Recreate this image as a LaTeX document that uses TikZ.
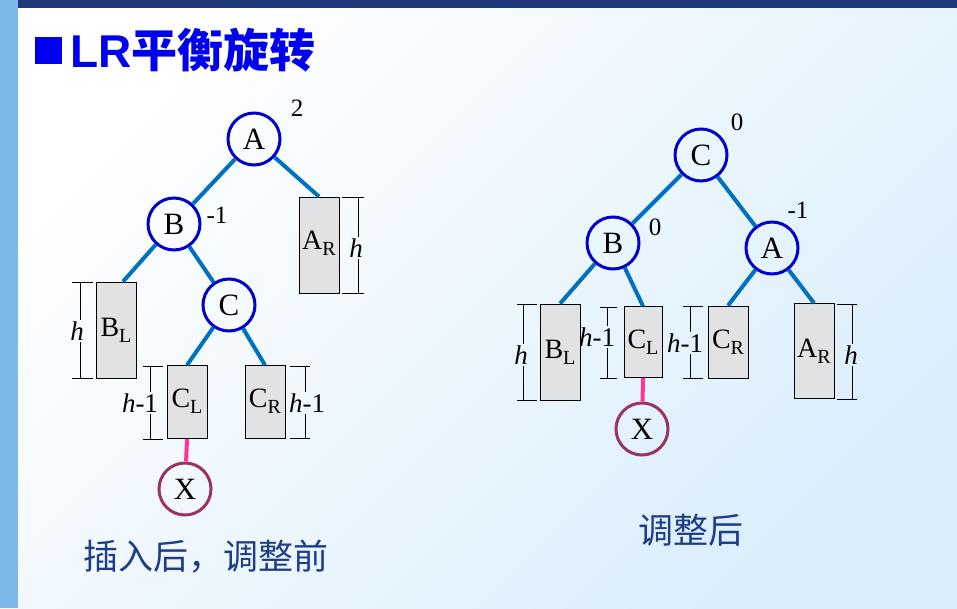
\documentclass[tikz,border=0pt]{standalone}
\usepackage{fontspec}
\setmainfont{Liberation Serif}
\newfontfamily\cjk{Noto Sans CJK SC}
\newfontfamily\titlesans{Liberation Sans}

\definecolor{edgeblue}{RGB}{0,112,192}
\definecolor{ringblue}{RGB}{0,0,204}
\definecolor{xring}{RGB}{153,51,102}
\definecolor{xedge}{RGB}{255,51,153}
\definecolor{capnavy}{RGB}{31,60,136}
\definecolor{topnavy}{RGB}{31,58,122}
\definecolor{sidebar}{RGB}{125,185,232}
\definecolor{bgblue}{RGB}{218,238,252}
\definecolor{boxgray}{RGB}{224,226,228}
\definecolor{titleblue}{RGB}{0,0,240}

\newcommand{\lowr}[1]{\raisebox{-0.22em}{\fontsize{20}{21}\selectfont #1}}
% height marker: name, line x, tick from, tick to, top, bottom, label x, label y, text
\newcommand{\hmark}[9]{%
  \coordinate (#1t) at (#2,#5);
  \coordinate (#1b) at (#2,#6);
  \draw[dimline] (#3,#5) -- (#4,#5) (#3,#6) -- (#4,#6);
  \node[dimlab] (#1) at (#7,#8) {#9};
  \draw[dimline] (#1t) -- (#1t |- #1.north) (#1t |- #1.south) -- (#1b);
}

\tikzset{
  vtx/.style={circle, draw=ringblue, line width=3pt, minimum size=52pt, inner sep=0pt,
    font=\fontsize{31}{33}\selectfont},
  xvtx/.style={vtx, draw=xring},
  subtree/.style={draw=black, line width=0.8pt, fill=boxgray, minimum width=40pt,
    inner sep=0pt, font=\fontsize{28}{30}\selectfont},
  branch/.style={edgeblue, line width=4pt},
  newbranch/.style={xedge, line width=4pt},
  bal/.style={font=\fontsize{25}{27}\selectfont},
  dimline/.style={line width=0.6pt},
  dimlab/.style={inner sep=1.5pt, font=\fontsize{27}{29}\selectfont},
  caption/.style={text=capnavy, font=\cjk\fontsize{35}{37}\selectfont}
}

\begin{document}
\begin{tikzpicture}[x=1pt,y=-1pt]
  \useasboundingbox (0,0) rectangle (957,608);
  \shade[top color=white, bottom color=bgblue, shading angle=45] (0,0) rectangle (957,608);
  \fill[sidebar] (0,0) rectangle (18,608);
  \fill[topnavy] (18,0) rectangle (957,8);

  % title
  \node[fill=titleblue, minimum size=27pt, inner sep=0pt] (bullet) at (48,50) {};
  \node[anchor=west, text=titleblue, font=\fontsize{46}{48}\selectfont\bfseries] (title) at (67,50)
    {\titlesans LR\cjk 平衡旋转};

  % before
  \node[vtx] (A) at (254,139) {A};
  \node[vtx] (B) at (174,224) {B};
  \node[vtx] (C) at (229,305) {C};
  \node[xvtx] (X) at (185,489) {X};
  \node[subtree, minimum height=96pt] (AR) at (319,245) {\raisebox{10pt}{A\lowr{R}}};
  \node[subtree, minimum height=96pt] (BL) at (116,330) {\raisebox{-6pt}{B\lowr{L}}};
  \node[subtree, minimum height=73pt] (CL) at (187,402) {\raisebox{8pt}{C\lowr{L}}};
  \node[subtree, minimum height=73pt] (CR) at (265,402) {\raisebox{8pt}{C\lowr{R}}};
  \draw[branch] (A) -- (B) (A) -- (AR.north) (B) -- ([xshift=7pt]BL.north)
    (B) -- (C) (C) -- (CL.north) (C) -- (CR.north);
  \draw[newbranch] (CL.south) -- (X);
  \node[bal] (balA) at (297,108) {2};
  \node[bal] (balB) at (217,215) {-1};
  \hmark{hAR}{358}{342}{364}{197}{293}{356}{248}{\textit{h}}
  \hmark{hBL}{80}{72}{93}{282}{378}{77}{331}{\textit{h}}
  \hmark{hCL}{150}{143}{163}{366}{439}{140}{403}{\textit{h}-1}
  \hmark{hCR}{305}{290}{310}{366}{438}{307}{403}{\textit{h}-1}
  \node[caption] (before) at (206,557) {插入后，调整前};

  % after
  \node[vtx] (C2) at (701,155) {C};
  \node[vtx] (B2) at (613,243) {B};
  \node[vtx] (A2) at (772,248) {A};
  \node[xvtx] (X2) at (642,429) {X};
  \node[subtree, minimum height=96pt] (BL2) at (560,352) {\raisebox{-6pt}{B\lowr{L}}};
  \node[subtree, minimum height=71pt, minimum width=38pt] (CL2) at (643,342) {C\lowr{L}};
  \node[subtree, minimum height=72pt] (CR2) at (728,342) {C\lowr{R}};
  \node[subtree, minimum height=95pt] (AR2) at (814,351) {\raisebox{-8pt}{A\lowr{R}}};
  \draw[branch] (C2) -- (B2) (C2) -- (A2) (B2) -- (BL2.north) (B2) -- (CL2.north)
    (A2) -- (CR2.north) (A2) -- (AR2.north);
  \draw[newbranch] (CL2.south) -- (X2);
  \node[bal] (balC2) at (737,122) {0};
  \node[bal] (balB2) at (655,227) {0};
  \node[bal] (balA2) at (798,210) {-1};
  \hmark{hBL2}{523}{517}{537}{304}{400}{521}{355}{\textit{h}}
  \hmark{hCL2}{607}{600}{617}{307}{378}{597}{337}{\textit{h}-1}
  \hmark{hCR2}{690}{683}{703}{306}{378}{685}{343}{\textit{h}-1}
  \hmark{hAR2}{852}{837}{857}{304}{399}{851}{355}{\textit{h}}
  \node[caption] (after) at (691,530) {调整后};
\end{tikzpicture}
\end{document}
